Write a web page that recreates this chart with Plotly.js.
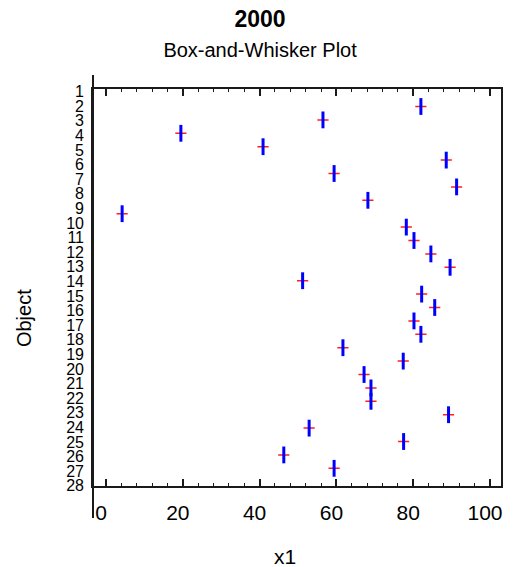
<!DOCTYPE html>
<html>
<head>
<meta charset="utf-8">
<script src="https://cdn.plot.ly/plotly-3.0.1.min.js"></script>
<style>html,body{margin:0;padding:0;background:#fff;}#chart{width:513px;height:567px;}</style>
</head>
<body>
<div id="chart"></div>
<script>
// Object index of each box (drawn top to bottom)
var objects = [1,2,3,4,5,6,7,8,9,10,11,12,13,14,15,16,17,18,19,20,21,22,23,24,25,26,27,28];
// Median (centre) value of x1 for each object
var medians = [82.0,56.5,19.5,40.9,88.6,59.4,91.3,68.2,4.2,78.2,80.2,84.6,89.6,51.2,82.2,85.6,80.2,82.0,61.7,77.4,67.2,69.0,69.0,89.2,52.9,77.5,46.3,59.4];
// Tick labels of the Object axis
var objectLabels = ['1','2','3','4','5','6','7','8','9','10','11','12','13','14','15','16','17','18','19','20','21','22','23','24','25','26','27','28'];
var objectTickVals = [1,2,3,4,5,6,7,8,9,10,11,12,13,14,15,16,17,18,19,20,21,22,23,24,25,26,27,28];
// x axis ticks
var xTickVals = [0,20,40,60,80,100];
var xTickText = ['0','20','40','60','80','100'];

var FONT = 'Liberation Sans, Arial, Helvetica, sans-serif';

var traces = [
  {
    type: 'scatter', mode: 'markers', x: medians, y: objects,
    marker: {symbol: 'cross-thin', size: 8, line: {color: '#ff2020', width: 1.5}, color: '#ff2020'},
    hoverinfo: 'skip', showlegend: false
  },
  {
    type: 'scatter', mode: 'markers', x: medians, y: objects,
    marker: {symbol: 'line-ns', size: 12, line: {color: '#0000ff', width: 3}, color: '#0000ff'},
    showlegend: false
  },
  {
    type: 'scatter', mode: 'markers', x: [null], y: [null], xaxis: 'x2', yaxis: 'y2',
    hoverinfo: 'skip', showlegend: false
  }
];

var layout = {
  width: 513, height: 567,
  margin: {l: 93, r: 12, t: 89, b: 81},
  paper_bgcolor: '#ffffff', plot_bgcolor: '#ffffff',
  font: {family: FONT, color: '#000000'},
  showlegend: false,
  title: {
    text: '<b>2000</b><br><span style="font-size:20px">Box-and-Whisker Plot</span>',
    font: {family: FONT, size: 23, color: '#000000'},
    x: 0.507, xanchor: 'center', xref: 'container',
    y: 0.953, yanchor: 'top', yref: 'container'
  },
  xaxis: {
    range: [-3.385, 102.86], showgrid: false, zeroline: false,
    showline: true, linecolor: '#1a1a1a', linewidth: 2, mirror: 'allticks',
    ticks: 'inside', ticklen: 7, tickwidth: 2, tickcolor: '#1a1a1a',
    tickvals: xTickVals, showticklabels: false,
    minor: {dtick: 4, tick0: 0, ticks: 'inside', ticklen: 3, tickwidth: 1, tickcolor: '#1a1a1a', showgrid: false}
  },
  xaxis2: {
    overlaying: 'x', anchor: 'y', side: 'bottom',
    range: [-2.085, 104.16], showgrid: false, zeroline: false, showline: false,
    ticks: '', tickvals: xTickVals, ticktext: xTickText,
    tickfont: {family: FONT, size: 21, color: '#000000'}, ticklabelstandoff: 12
  },
  yaxis: {
    range: [29.32, -0.306], showgrid: false, zeroline: false,
    showline: true, linecolor: '#1a1a1a', linewidth: 2, mirror: true,
    ticks: '', showticklabels: false
  },
  yaxis2: {
    overlaying: 'y', anchor: 'x', side: 'left',
    range: [28.01, 0.816], showgrid: false, zeroline: false, showline: false,
    ticks: '', tickvals: objectTickVals, ticktext: objectLabels,
    tickfont: {family: FONT, size: 16, color: '#000000'}, ticklabelstandoff: 8
  },
  shapes: [
    {type: 'line', xref: 'paper', yref: 'paper', x0: 0, x1: 0, y0: -0.0806, y1: 1.0353,
     line: {color: '#1a1a1a', width: 2}}
  ],
  annotations: [
    {text: 'Object', xref: 'paper', yref: 'paper', x: -0.169, y: 0.423, textangle: -90,
     xanchor: 'center', yanchor: 'middle', showarrow: false,
     font: {family: FONT, size: 20, color: '#000000'}},
    {text: 'x1', xref: 'paper', yref: 'paper', x: 0.4706, y: -0.178,
     xanchor: 'center', yanchor: 'middle', showarrow: false,
     font: {family: FONT, size: 21, color: '#000000'}}
  ]
};

Plotly.newPlot('chart', traces, layout, {displayModeBar: false, staticPlot: true});
</script>
</body>
</html>
